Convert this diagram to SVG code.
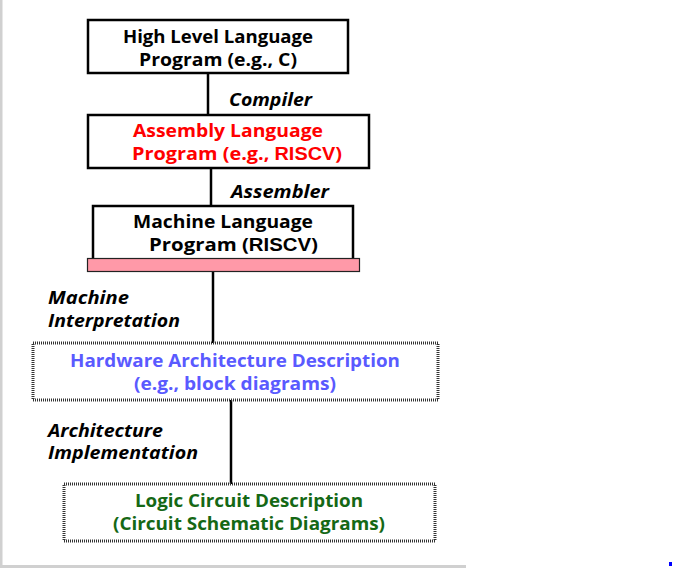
<svg xmlns="http://www.w3.org/2000/svg" width="673" height="570" viewBox="0 0 673 570">
<style>
.box{fill:#fff;stroke:#000;stroke-width:2.5}
.dot{fill:#fff;stroke:#333;stroke-width:3;stroke-dasharray:1 1}
.t{font-family:"Open Sans","Liberation Sans",sans-serif;font-weight:bold;font-size:18.5px;text-anchor:start}
.lbl{font-family:"Open Sans","Liberation Sans",sans-serif;font-weight:bold;font-style:italic;font-size:18px;fill:#000}
.ar{font-family:"Liberation Sans",Arial,sans-serif;font-weight:bold}
.conn{stroke:#000;stroke-width:2.5;fill:none}
</style>
<rect x="0" y="0" width="673" height="570" fill="#fff"/>
<g id="frame">
<rect x="0" y="0" width="2.5" height="568" fill="#d0d0d0"/>
<rect x="0" y="565" width="466" height="3" fill="#d0d0d0"/>
<rect x="669" y="562" width="3" height="4" fill="#0000ff"/>
</g>
<g id="connectors">
<line class="conn" x1="208" y1="73" x2="208" y2="115"/>
<line class="conn" x1="211" y1="168" x2="211" y2="206"/>
<line class="conn" x1="213" y1="272" x2="213" y2="343"/>
<line class="conn" x1="231" y1="400" x2="231" y2="484"/>
</g>
<g id="lbl-compiler"><text class="lbl" x="229" y="106" textLength="83" lengthAdjust="spacingAndGlyphs">Compiler</text></g>
<g id="lbl-assembler"><text class="lbl" x="231" y="198" textLength="98" lengthAdjust="spacingAndGlyphs">Assembler</text></g>
<g id="lbl-machine"><text class="lbl" x="48" y="304" textLength="81" lengthAdjust="spacingAndGlyphs">Machine</text><text class="lbl" x="48" y="327" textLength="132" lengthAdjust="spacingAndGlyphs">Interpretation</text></g>
<g id="lbl-arch"><text class="lbl" x="48" y="437" textLength="115" lengthAdjust="spacingAndGlyphs">Architecture</text><text class="lbl" x="48" y="459" textLength="150" lengthAdjust="spacingAndGlyphs">Implementation</text></g>
<g id="node-hll">
<rect class="box" x="88" y="20" width="260" height="53"/>
<text class="t" x="123" y="43" textLength="190" lengthAdjust="spacingAndGlyphs">High Level Language</text>
<text class="t" x="139" y="66" textLength="158" lengthAdjust="spacingAndGlyphs">Program (e.g., C)</text>
</g>
<g id="node-asm" fill="#ff0000">
<rect class="box" x="88" y="115" width="281" height="53"/>
<text class="t" x="133" y="137" textLength="190" lengthAdjust="spacingAndGlyphs">Assembly  Language</text>
<text class="t" x="132" y="160" textLength="210" lengthAdjust="spacingAndGlyphs">Program (e.g., <tspan class="ar" font-size="18.5">RISCV</tspan>)</text>
</g>
<g id="node-ml">
<rect class="box" x="93" y="206" width="260" height="54"/>
<rect x="87.5" y="258.5" width="272" height="13" fill="#ff99a8" stroke="#222" stroke-width="1.2"/>
<text class="t" x="133" y="228" textLength="180" lengthAdjust="spacingAndGlyphs">Machine  Language</text>
<text class="t" x="149" y="251" textLength="169" lengthAdjust="spacingAndGlyphs">Program (<tspan class="ar" font-size="18.5">RISCV</tspan>)</text>
</g>
<g id="node-hw" fill="#5a5aff">
<rect class="dot" x="33" y="343" width="405" height="57"/>
<text class="t" x="70" y="367" textLength="330" lengthAdjust="spacingAndGlyphs">Hardware Architecture Description</text>
<text class="t" x="134" y="390" textLength="202" lengthAdjust="spacingAndGlyphs">(e.g., block diagrams)</text>
</g>
<g id="node-logic" fill="#156815">
<rect class="dot" x="64" y="484" width="371" height="57"/>
<text class="t" x="135" y="507" textLength="228" lengthAdjust="spacingAndGlyphs">Logic Circuit Description</text>
<text class="t" x="113" y="530" textLength="272" lengthAdjust="spacingAndGlyphs">(Circuit Schematic Diagrams)</text>
</g>
</svg>
